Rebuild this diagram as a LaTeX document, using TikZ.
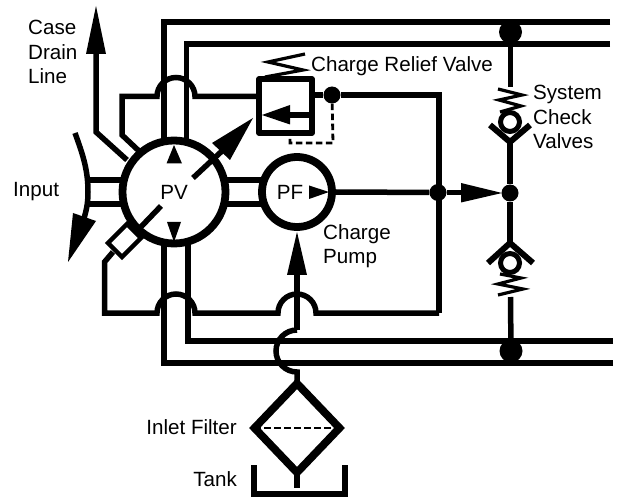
\documentclass[tikz,border=0pt]{standalone}
\usepackage{fontspec}
\setmainfont{Liberation Sans}
\tikzset{
  pipe/.style={draw=black,line width=5.5pt,miter limit=10},
  thickring/.style={draw=black,line width=7.8pt,circle,inner sep=0pt,fill=white},
  springline/.style={draw=black,line width=3.2pt},
  dashline/.style={draw=black,line width=2.8pt,dash pattern=on 6.5pt off 3.5pt},
  spot/.style={fill=black,circle,inner sep=0pt},
  head/.style={fill=black,draw=none},
  lab/.style={inner sep=0pt,font=\fontsize{20.6}{24.5}\selectfont}
}
\begin{document}
\begin{tikzpicture}[x=1pt,y=-1pt]
\useasboundingbox (0,0) rectangle (622,500);
\fill[white] (0,0) rectangle (622,500);
% named junctions
\node[spot,minimum size=17pt] (jr) at (332,95) {};
\node[spot,minimum size=17pt] (jm) at (438,192.5) {};
\node[spot,minimum size=17pt] (jc) at (510,193) {};
\node[spot,minimum size=23pt] (jt) at (510.5,32) {};
\node[spot,minimum size=23pt] (jb) at (511,351) {};
% main lines
\draw[pipe] (610,22) -| (164,140);
\draw[pipe] (610,44) -| (186.5,140);
\draw[pipe] (613,341) -| (188,240);
\draw[pipe] (613,363) -| (164,240);
% charge loop
\draw[pipe] (139,151) -- (122,135) -- (122,96.5) -- (157,96.5) arc[start angle=180,end angle=360,radius=19] -- (259,96.5);
\draw[pipe] (jr) -- (312,95);
\draw[pipe] (jr) -| (439,313);
\draw[pipe] (113,252) -- (104.5,262) -- (104.5,313) -- (157,313) arc[start angle=180,end angle=360,radius=19] -- (278,313) arc[start angle=180,end angle=360,radius=19] -- (439,313);
% case drain
\draw[pipe] (127,160) -- (96,132) -- (96,50);
\fill[head] (96,6) -- (106,54) -- (86,54) -- cycle;
% input
\draw[pipe] (88,180) -- (122,180);
\draw[pipe] (88,204) -- (122,204);
\draw[draw=black,line width=5.5pt] (75,133) .. controls (83,155) and (88,170) .. (88,192) .. controls (88,205) and (86,212) .. (82,225);
\fill[head] (68,262) -- (73,213) -- (96,221) -- cycle;
% PV to PF link
\draw[pipe] (225,180) -- (262,180);
\draw[pipe] (225,204) -- (262,204);
% pump and filter line
\draw[pipe] (297,270) -- (297,330);
\draw[pipe] (297,330) arc[start angle=-90,end angle=-270,radius=21] -- (297,383);
% lower-left box sits behind the ring
\draw[draw=black,line width=4.4pt,fill=white,line join=miter] (127,224) -- (141,238) -- (122,257) -- (108,243) -- cycle;
% circles
\node[thickring,minimum size=103pt] (pv) at (174,192) {};
\node[thickring,minimum size=70pt] (pf) at (297,192) {};
\node[lab] at (174,192.5) {PV};
\node[lab] at (290,192.5) {PF};
% pump outlet
\draw[pipe] (pf.east) -- (jm);
\draw[pipe] (jm) -- (465,192.5);
\fill[head] (502,193) -- (461,183) -- (461,202.5) -- cycle;
% PV arrows
\fill[head] (174,145) -- (182,163.5) -- (166.5,163.5) -- cycle;
\fill[head] (174,242) -- (181,222) -- (167,222) -- cycle;
\fill[head] (329,192) -- (309,185.5) -- (309,199) -- cycle;
\fill[head] (297,232) -- (307,275) -- (287,275) -- cycle;
\draw[pipe] (193,178) -- (222,151);
\fill[head] (253,118) -- (230,160) -- (212,143) -- cycle;
\draw[pipe] (161,206) -- (137,231);
% relief valve
\draw[pipe,line join=round] (259,79) rectangle (312,133);
\draw[pipe] (312,115) -- (285,115);
\fill[head] (262,115) -- (290,105) -- (290,124.5) -- cycle;
\draw[springline,line join=miter] (265,77) -- (303,70) -- (268,62) -- (305,54);
\draw[dashline] (jr) -- (333,143) -- (290,143) -- (290,135);
% filter
\draw[draw=black,line width=7.8pt,line join=miter] (297,383.5) -- (339.5,428) -- (297,472.5) -- (254.5,428) -- cycle;
\draw[dashline] (254,428) -- (340,428);
\draw[pipe] (297,473) -- (297,488);
\draw[pipe] (254,465) -- (254,494) -- (345,494) -- (345,465);
% check valves
\draw[pipe] (jt) -- (510.5,87);
\draw[pipe] (510,143) -- (jc) -- (510,242);
\draw[pipe] (510.5,297) -- (jb);
\draw[draw=black,line width=6pt] (490,125) -- (510,142) -- (530,125);
\draw[draw=black,line width=6pt] (488,263) -- (510,243) -- (533,263);
\draw[draw=black,line width=5pt,fill=white] (510,122) circle[radius=9.5];
\draw[draw=black,line width=5pt,fill=white] (510,263) circle[radius=9.5];
\draw[springline] (498,89) -- (522,95) -- (499,100) -- (521,106) -- (500,112);
\draw[springline] (498,295) -- (523,289) -- (498,284) -- (521,278) -- (500,274);
% labels
\node[lab,anchor=base west] at (28,35) {Case};
\node[lab,anchor=base west] at (28,59.5) {Drain};
\node[lab,anchor=base west] at (28,84) {Line};
\node[lab,anchor=base west] at (13,197) {Input};
\node[lab,anchor=base west] at (311,72) {Charge Relief Valve};
\node[lab,anchor=base west] at (533,100) {System};
\node[lab,anchor=base west] at (533,124.5) {Check};
\node[lab,anchor=base west] at (533,149) {Valves};
\node[lab,anchor=base west] at (323,239.5) {Charge};
\node[lab,anchor=base west] at (323,264) {Pump};
\node[lab,anchor=base east] at (237,434) {Inlet Filter};
\node[lab,anchor=base east] at (237,486) {Tank};
\end{tikzpicture}
\end{document}
